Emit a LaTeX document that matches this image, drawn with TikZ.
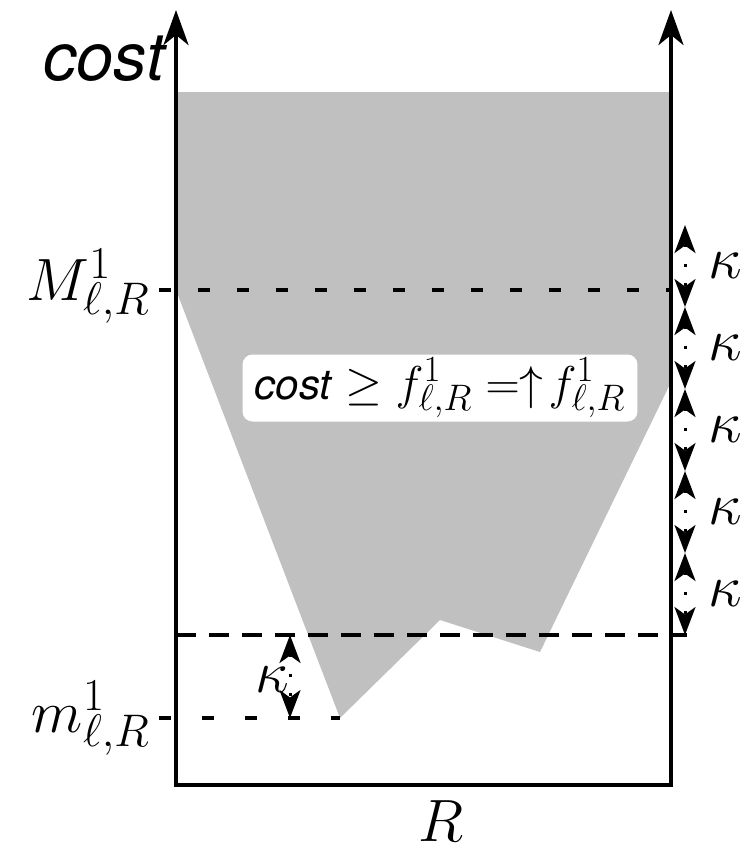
\RequirePackage{fix-cm}
\documentclass[tikz,border=0pt]{standalone}
\usepackage{fontspec}
\newfontfamily\helv{TeX Gyre Heros}
\usetikzlibrary{arrows.meta}
\definecolor{region}{RGB}{192,192,192}
\DeclareMathSizes{34}{34}{26}{20}
\DeclareMathSizes{27}{27}{21}{16}

\begin{document}
\begin{tikzpicture}[
  x=0.02cm, y=-0.02cm,
  axis/.style={line width=0.08cm,
               {Stealth[length=0.7cm, width=0.5cm, inset=0.2cm]}-{Stealth[length=0.7cm, width=0.5cm, inset=0.2cm]}},
  lvl/.style={line width=0.08cm, dash pattern=on 0.24cm off 0.54cm},
  kap/.style={line width=0.06cm, dash pattern=on 0.06cm off 0.33cm,
              {Stealth[length=0.56cm, width=0.42cm, inset=0.15cm]}-{Stealth[length=0.56cm, width=0.42cm, inset=0.15cm]}},
  big/.style={inner sep=0pt, font=\fontsize{34}{40}\selectfont},
]
  \useasboundingbox (0,0) rectangle (742,850);

  \fill[region] (176,92) -- (671,92) -- (671,382) -- (540,652) -- (440,620)
    -- (340,718) -- (176,290) -- cycle;

  \node[fill=white, rounded corners=0.2cm, minimum width=7.9cm, minimum height=1.34cm,
        inner sep=2pt, font=\fontsize{27}{32}\selectfont] (cond) at (440,388)
    {{\helv\itshape\fontsize{24}{28}\selectfont cost} $\geq f^1_{\ell,R} = \uparrow\! f^1_{\ell,R}$};

  \coordinate (ytop) at (176,10);
  \coordinate (o)    at (176,785);
  \coordinate (b)    at (671,785);
  \coordinate (rtop) at (671,10);

  \coordinate (Mw) at (159,290);
  \coordinate (Me) at (671,290);
  \coordinate (mw) at (159,718);
  \coordinate (me) at (340,718);
  \coordinate (lw) at (176,635);
  \coordinate (le) at (687,635);

  \draw[lvl] (Mw) -- (Me);
  \draw[lvl, dash pattern=on 0.24cm off 0.62cm] (mw) -- (me);
  \draw[lvl, dash pattern=on 0.4cm off 0.26cm] (lw) -- (le);

  \draw[axis] (ytop) -- (o) -- (b) -- (rtop);

  \foreach \i in {0,...,4}{
    \coordinate (k\i) at (685,{225+82*\i});
    \coordinate (k\i') at (685,{307+82*\i});
    \draw[kap] (k\i) -- (k\i');
    \node[big, anchor=west] (kl\i) at (708,{266+82*\i}) {$\kappa$};
  }

  \coordinate (ka) at (290,635);
  \coordinate (kb) at (290,718);
  \draw[kap] (ka) -- (kb);
  \node[big] (kl) at (272,680) {$\kappa$};

  \node[inner sep=0pt, anchor=base east, font=\helv\itshape\fontsize{38}{44}\selectfont]
    (ylab) at (165,80) {cost};
  \node[big, anchor=base] (xlab) at (441,841) {$R$};
  \node[big, anchor=base east] (Mlab) at (150,300) {$M^1_{\ell,R}$};
  \node[big, anchor=base east] (mlab) at (150,732) {$m^1_{\ell,R}$};
\end{tikzpicture}
\end{document}
